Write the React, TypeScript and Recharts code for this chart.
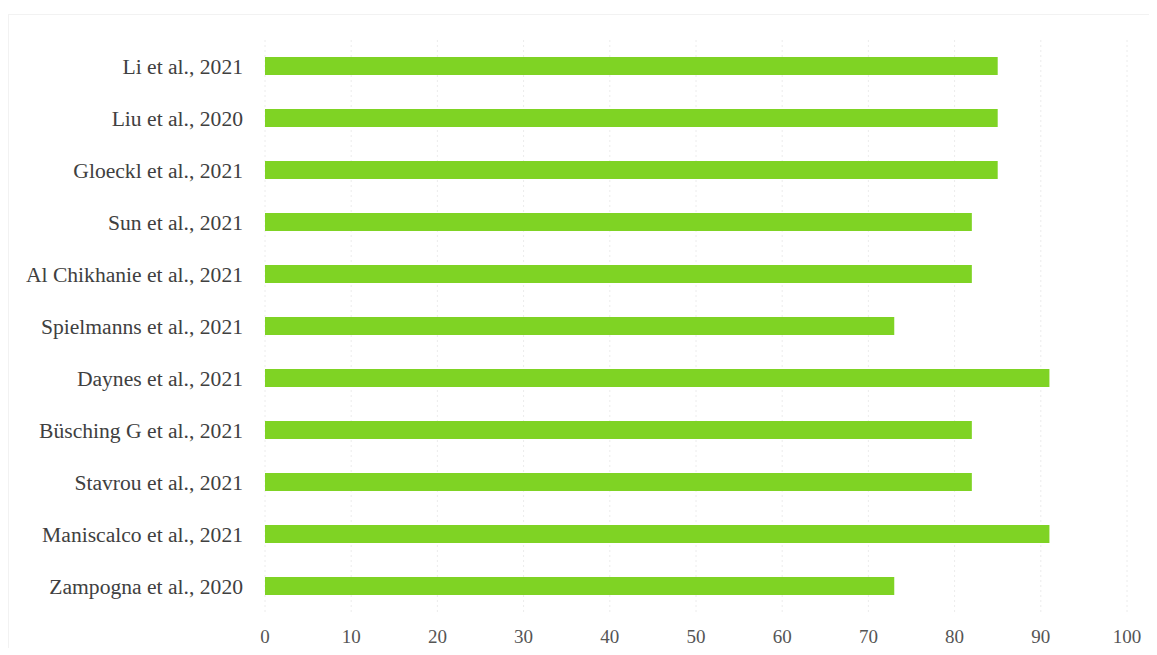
import React from "react";
import { BarChart, Bar, XAxis, YAxis, CartesianGrid } from "recharts";

const studies = [
  "Li et al., 2021",
  "Liu et al., 2020",
  "Gloeckl et al., 2021",
  "Sun et al., 2021",
  "Al Chikhanie et al., 2021",
  "Spielmanns et al., 2021",
  "Daynes et al., 2021",
  "Büsching G et al., 2021",
  "Stavrou et al., 2021",
  "Maniscalco et al., 2021",
  "Zampogna et al., 2020",
];
const scores = [85, 85, 85, 82, 82, 73, 91, 82, 82, 91, 73];
const xTicks = [0, 10, 20, 30, 40, 50, 60, 70, 80, 90, 100];

const data = studies.map((name, i) => ({ name, value: scores[i] }));

export default function App() {
  return (
    <div style={{ width: 1141, height: 640, position: "relative" }}>
      <div
        style={{
          position: "absolute",
          left: 0,
          top: 6,
          width: 1141,
          height: 634,
          borderTop: "1px solid #f2f2f2",
          borderLeft: "1px solid #f2f2f2",
          boxSizing: "border-box",
        }}
      />
      <BarChart
        width={1141}
        height={640}
        data={data}
        layout="vertical"
        margin={{ top: 32, right: 22, left: 0, bottom: 0 }}
        barSize={18}
        style={{ position: "absolute", left: 0, top: 0 }}
      >
        <CartesianGrid
          horizontal={false}
          vertical={true}
          stroke="#ececec"
          strokeDasharray="2 3"
        />
        <XAxis
          type="number"
          domain={[0, 100]}
          ticks={xTicks}
          axisLine={false}
          tickLine={false}
          tickSize={8}
          tickMargin={10}
          height={36}
          tick={{
            fill: "#555555",
            fontSize: 19,
            fontFamily: "Liberation Serif, serif",
          }}
        />
        <YAxis
          type="category"
          dataKey="name"
          width={257}
          axisLine={false}
          tickLine={false}
          tickSize={0}
          tickMargin={22}
          interval={0}
          tick={{
            fill: "#404040",
            fontSize: 21.6,
            fontFamily: "Liberation Serif, serif",
          }}
        />
        <Bar dataKey="value" fill="#7fd324" isAnimationActive={false} />
      </BarChart>
    </div>
  );
}
